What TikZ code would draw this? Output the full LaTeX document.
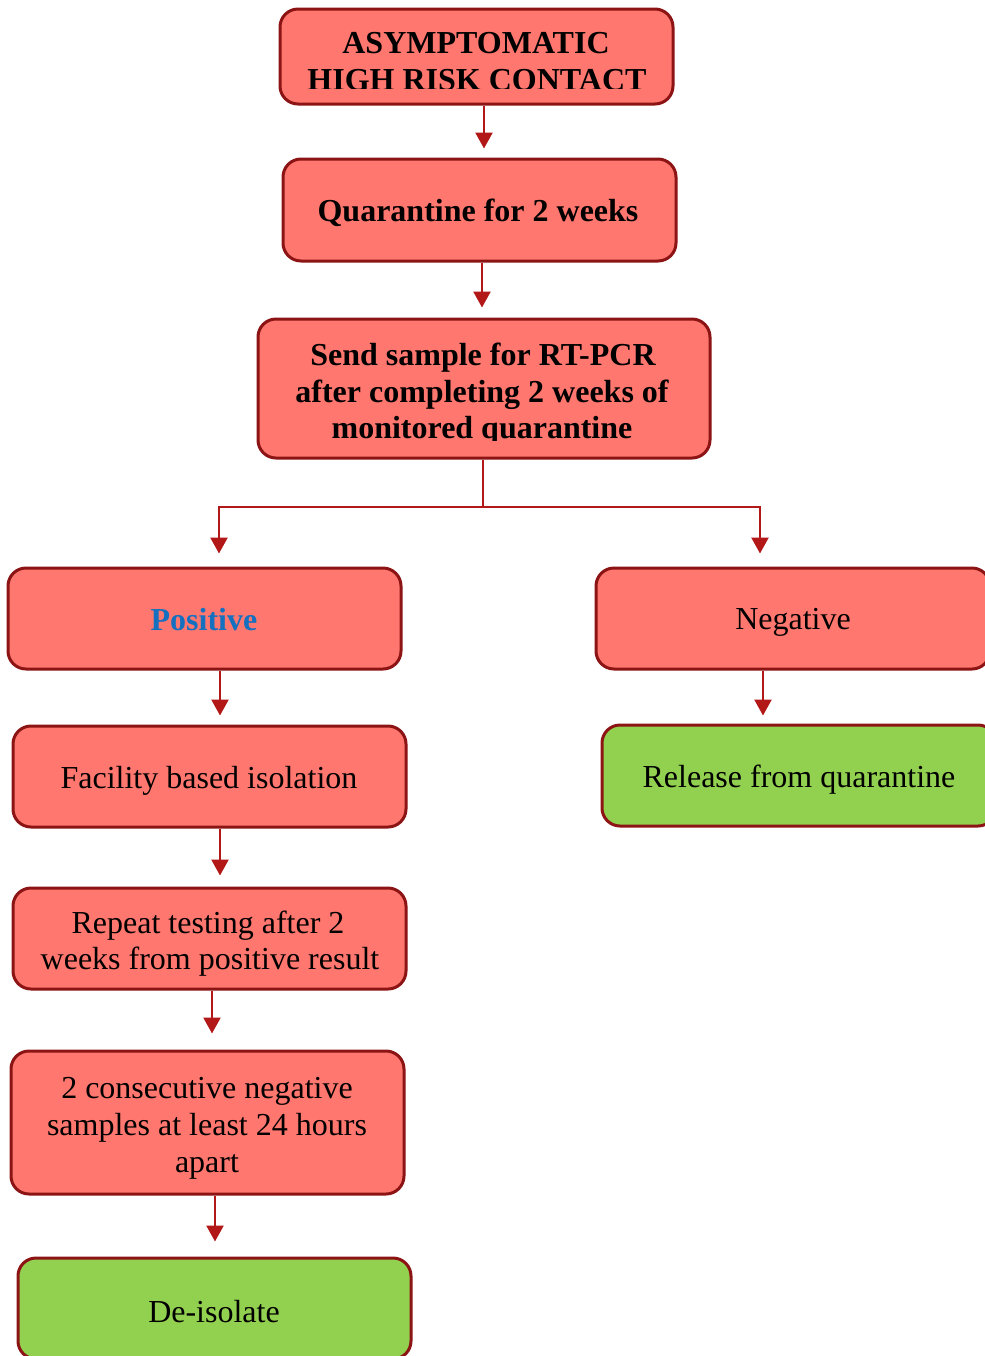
\documentclass[tikz,border=0pt]{standalone}
\usepackage{fontspec}
\setmainfont{Liberation Serif}
\usetikzlibrary{arrows.meta}
\definecolor{boxfill}{RGB}{255,119,110}
\definecolor{boxline}{RGB}{140,20,20}
\definecolor{arrcol}{RGB}{178,24,24}
\definecolor{posblue}{RGB}{21,112,192}
\definecolor{okgreen}{RGB}{146,208,80}
\tikzset{
  box/.style={draw=boxline, line width=1.5pt, fill=boxfill, rounded corners=9pt, inner sep=0pt},
  gbox/.style={box, fill=okgreen},
  txt/.style={anchor=base, inner sep=0pt, align=center, font=\fontsize{16}{19}\selectfont},
  btxt/.style={txt, font=\fontsize{16}{19}\selectfont\bfseries},
  arr/.style={draw=arrcol, line width=1.25pt, -{Triangle[length=8pt,width=8.5pt]}, shorten >=4.5pt},
  conn/.style={draw=arrcol, line width=1.25pt}
}
\begin{document}
\begin{tikzpicture}[x=0.5pt,y=-0.5pt]
\clip (0,0) rectangle (985,1356);
\fill[white] (0,0) rectangle (985,1356);
% boxes
\node[box, minimum width=196.5pt, minimum height=47.5pt] (b1) at (476.5,56.5) {};
\node[box, minimum width=196.5pt, minimum height=51pt] (b2) at (479.5,210) {};
\node[box, minimum width=226pt, minimum height=69.5pt] (b3) at (484,388.5) {};
\node[box, minimum width=196.5pt, minimum height=50.5pt] (pos) at (204.5,618.5) {};
\node[box, minimum width=197pt, minimum height=50.5pt] (neg) at (793,618.5) {};
\node[box, minimum width=196.5pt, minimum height=50.5pt] (fac) at (209.5,776.5) {};
\node[gbox, minimum width=197pt, minimum height=50.5pt] (rel) at (799,775.5) {};
\node[box, minimum width=196.5pt, minimum height=50.5pt] (rep) at (209.5,938.5) {};
\node[box, minimum width=196.5pt, minimum height=71.5pt] (cons) at (207.5,1122.5) {};
\node[gbox, minimum width=196.5pt, minimum height=50.5pt] (deis) at (214.5,1308.5) {};
% texts
\begin{scope}
\clip (282,11) rectangle (671,88);
\node[btxt] (t1a) at (476,53) {ASYMPTOMATIC};
\node[btxt] (t1b) at (477,90) {HIGH RISK CONTACT};
\end{scope}
\node[btxt] (t2) at (478,221) {Quarantine for 2 weeks};
\begin{scope}
\clip (260,321) rectangle (708,440);
\node[btxt] (t3a) at (483,365) {Send sample for RT-PCR};
\node[btxt] (t3b) at (482,402) {after completing 2 weeks of};
\node[btxt] (t3c) at (482,438) {monitored quarantine};
\end{scope}
\node[btxt, text=posblue] (tpos) at (204,630) {Positive};
\node[txt] (tneg) at (793,629) {Negative};
\node[txt] (tfac) at (209,788) {Facility based isolation};
\node[txt] (trel) at (799,787) {Release from quarantine};
\node[txt] (trepa) at (208,933) {Repeat testing after 2};
\node[txt] (trepb) at (210,969) {weeks from positive result};
\node[txt] (tca) at (207,1098) {2 consecutive negative};
\node[txt] (tcb) at (207,1135) {samples at least 24 hours};
\node[txt] (tcc) at (207,1172) {apart};
\node[txt] (tdeis) at (214,1322) {De-isolate};
% connectors
\draw[arr] (484,0 |- b1.south) -- (484,0 |- b2.north);
\draw[arr, shorten >=5pt] (482,0 |- b2.south) -- (482,0 |- b3.north);
\draw[conn] (483,0 |- b3.south) -- (483,507) coordinate (split);
\draw[arr, shorten >=6.5pt] (split) -| (219,0 |- pos.north);
\draw[arr, shorten >=6.5pt] (split) -| (760,0 |- neg.north);
\draw[arr] (220,0 |- pos.south) -- (220,0 |- fac.north);
\draw[arr, shorten >=4pt] (763,0 |- neg.south) -- (763,0 |- rel.north);
\draw[arr, shorten >=5.5pt] (220,0 |- fac.south) -- (220,0 |- rep.north);
\draw[arr, shorten >=8pt] (212,0 |- rep.south) -- (212,0 |- cons.north);
\draw[arr, shorten >=7.5pt] (215,0 |- cons.south) -- (215,0 |- deis.north);
\end{tikzpicture}
\end{document}
